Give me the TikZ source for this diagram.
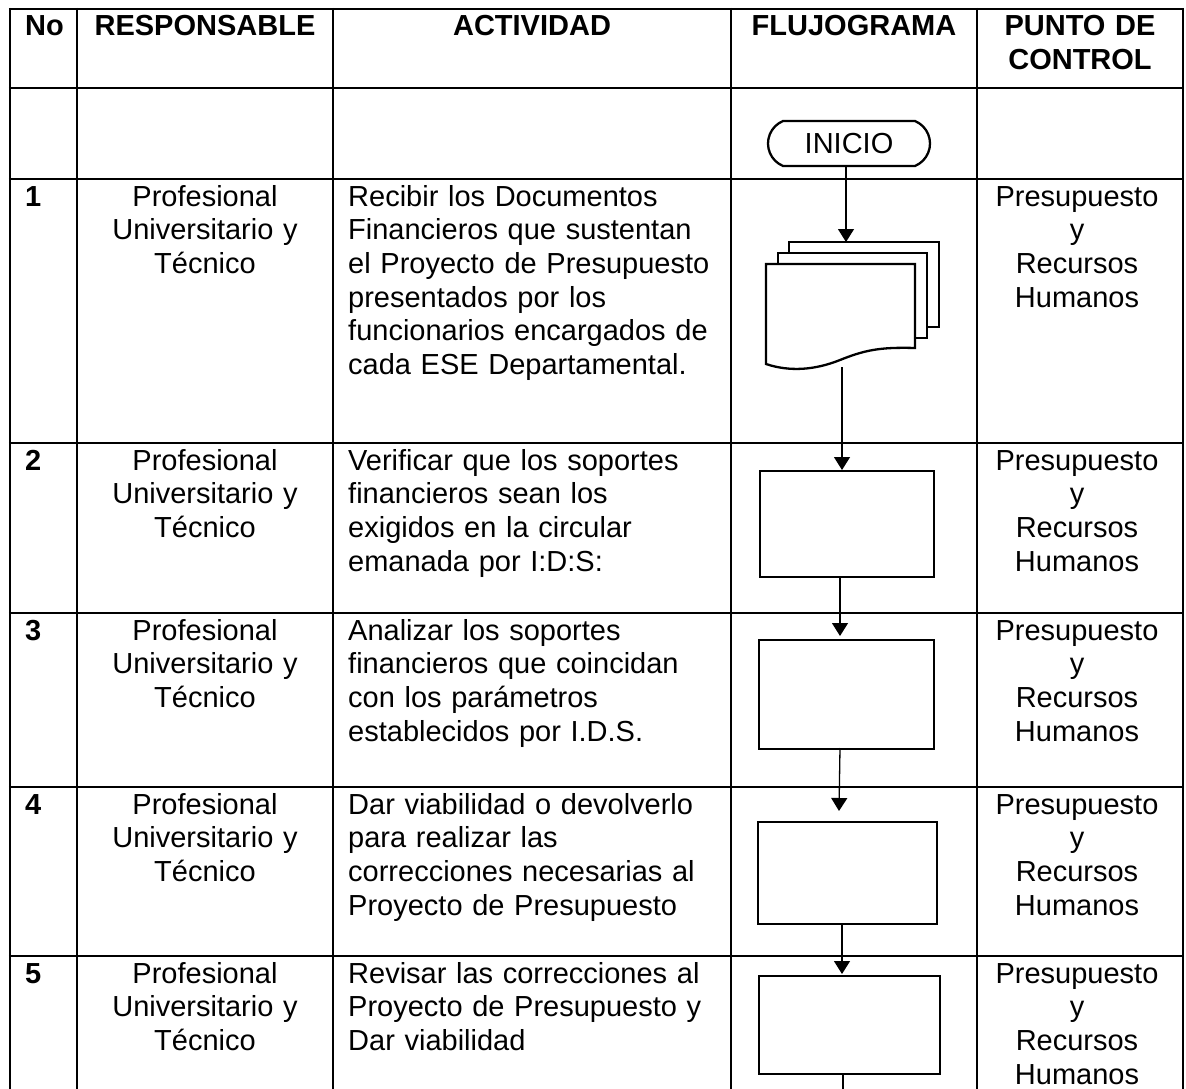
\documentclass[tikz,border=0pt]{standalone}
\usepackage{fontspec}
\setmainfont{Liberation Sans}
\usetikzlibrary{arrows.meta,shapes.misc}
\begin{document}
\begin{tikzpicture}[x=1pt,y=-1pt,
  grid/.style={line width=2.2pt},
  shp/.style={draw, line width=2.3pt, fill=white},
  conn/.style={line width=1.3pt},
  arr/.style={conn, -{Triangle[width=16pt,length=13pt]}},
  hd/.style={anchor=base, inner sep=0, text width=240pt, align=center, font=\fontsize{29}{34}\selectfont\bfseries},
  num/.style={anchor=base west, inner sep=0, font=\fontsize{29}{34}\selectfont\bfseries},
  ctr/.style={anchor=base, inner sep=0, text width=240pt, align=center, font=\fontsize{29}{33.7}\selectfont},
  lft/.style={anchor=base west, inner sep=0, text width=420pt, align=left, font=\fontsize{29}{33.7}\selectfont},
  boxst/.style={shp, rectangle, inner sep=0, anchor=north west}
]
\useasboundingbox (0,0) rectangle (1186,1089);
\begin{scope}
\clip (0,0) rectangle (1186,1089);
% grid
\foreach \yy in {9,88,179,443,613,787,956} {\draw[grid] (8.9,\yy) -- (1184.1,\yy);}
\foreach \xx in {10,77,333,731,977,1183} {\draw[grid] (\xx,7.9) -- (\xx,1095);}
\end{scope}

% header
\node[num] (hno) at (25,36) {No};
\node[hd] (hresp) at (205,36) {RESPONSABLE};
\node[hd] (hact) at (532,36) {ACTIVIDAD};
\node[hd] (hflu) at (854,36) {FLUJOGRAMA};
\node[hd, text width=200pt] (hpc) at (1080,36) {PUNTO DE\\CONTROL};

% rows
\foreach \n/\yb in {1/206,2/470,3/640,4/814,5/983} {
  \node[num] (no\n) at (25,\yb) {\n};
  \node[ctr] (resp\n) at (205,\yb) {Profesional\\Universitario y\\Técnico};
  \node[ctr, text width=200pt] (pc\n) at (1077,\yb) {Presupuesto\\y\\Recursos\\Humanos};
}
\node[lft] (act1) at (348,206) {Recibir los Documentos\\Financieros que sustentan\\el Proyecto de Presupuesto\\presentados por los\\funcionarios encargados de\\cada ESE Departamental.};
\node[lft] (act2) at (348,470) {Verificar que los soportes\\financieros sean los\\exigidos en la circular\\emanada por I:D:S:};
\node[lft] (act3) at (348,640) {Analizar los soportes\\financieros que coincidan\\con los parámetros\\establecidos por I.D.S.};
\node[lft] (act4) at (348,814) {Dar viabilidad o devolverlo\\para realizar las\\correcciones necesarias al\\Proyecto de Presupuesto};
\node[lft] (act5) at (348,983) {Revisar las correcciones al\\Proyecto de Presupuesto y\\Dar viabilidad};

% flowchart
\node[draw, line width=2.3pt, rounded rectangle, rounded rectangle arc length=135,
      minimum width=162pt, minimum height=45pt, inner sep=0,
      font=\fontsize{29}{34}\selectfont] (inicio) at (849,143.5) {INICIO};

% document stack
\draw[shp] (789,242) rectangle (939,327);
\draw[shp] (778,253) rectangle (927,338);
\draw[shp] (766,264) -- (915,264) -- (915,348)
   .. controls (880,347) and (865,350) .. (840,360)
   .. controls (815,370) and (790,372) .. (766,364) -- cycle;
\coordinate (docin) at (846,242);
\coordinate (docout) at (842,367);

\node[boxst, minimum width=174pt, minimum height=106pt] (b2) at (759,470) {};
\node[boxst, minimum width=175pt, minimum height=109pt] (b3) at (758,639) {};
\node[boxst, minimum width=179pt, minimum height=102pt] (b4) at (757,821) {};
\node[boxst, minimum width=181pt, minimum height=98pt] (b5) at (758,975) {};

\coordinate (iniout) at (846,166);
\coordinate (b2in) at (842,470);
\coordinate (b2out) at (840,576);
\coordinate (b3in) at (840,636);
\coordinate (b3out) at (840,748);
\coordinate (b4in) at (839,811);
\coordinate (b4out) at (842,923);
\coordinate (b5in) at (842,974);
\coordinate (b5out) at (843,1073);
\coordinate (bottomend) at (843,1089);

\draw[arr] (iniout) -- (docin);
\draw[arr] (docout) -- (b2in);
\draw[arr] (b2out) -- (b3in);
\draw[arr] (b3out) -- (b4in);
\draw[arr] (b4out) -- (b5in);
\draw[conn] (b5out) -- (bottomend);
\end{tikzpicture}
\end{document}
